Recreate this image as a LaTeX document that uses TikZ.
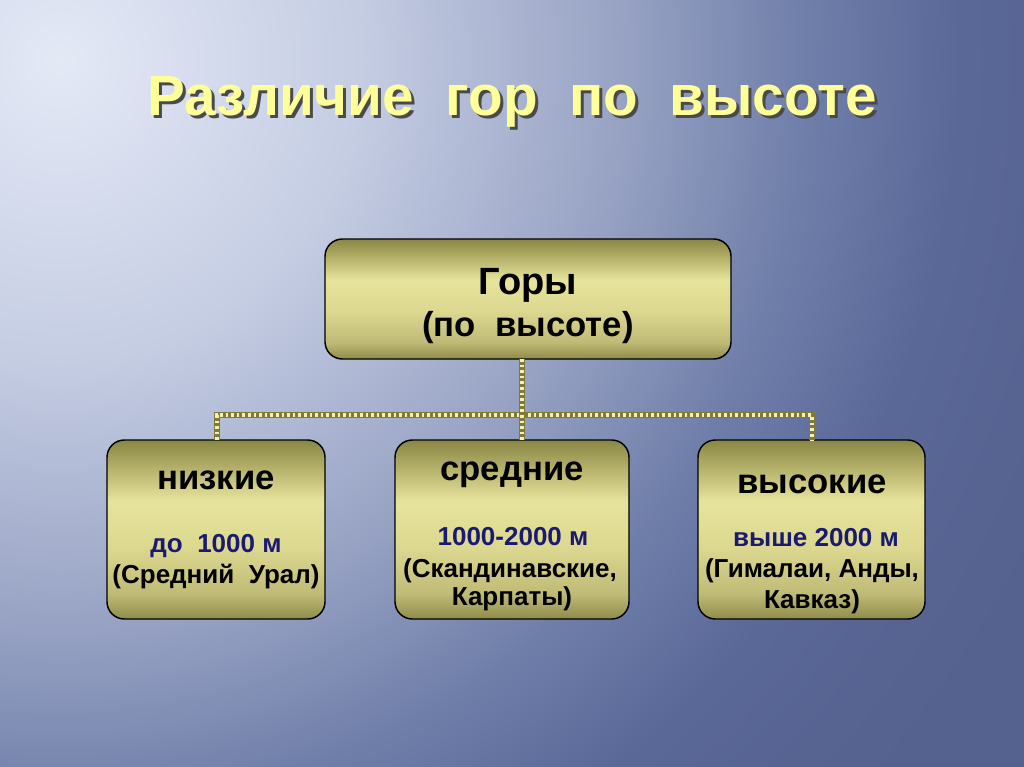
\documentclass[tikz,border=0pt]{standalone}
\usepackage{fontspec}
\setmainfont{Liberation Sans}
\definecolor{bgA}{HTML}{E4E9F6}
\definecolor{bgB}{HTML}{C5CDE3}
\definecolor{bgC}{HTML}{98A3C4}
\definecolor{bgD}{HTML}{6F7EA9}
\definecolor{bgF}{HTML}{5A6898}
\definecolor{bgE}{HTML}{55618E}
\definecolor{boxTop}{HTML}{8A8745}
\definecolor{boxUp}{HTML}{B0AC66}
\definecolor{boxMid}{HTML}{E6E39C}
\definecolor{boxMid2}{HTML}{DCD890}
\definecolor{boxLow}{HTML}{BFBB76}
\definecolor{boxBot}{HTML}{8F8B4A}
\definecolor{ropeDark}{HTML}{7F7A3A}
\definecolor{ropeLight}{HTML}{F4F2B0}
\definecolor{titleYellow}{HTML}{FFFF99}
\definecolor{titleShadow}{HTML}{4A4A4A}
\definecolor{navy}{HTML}{1A1A70}
\pgfdeclareradialshading{bgshade}{\pgfpoint{0bp}{0bp}}{color(0bp)=(bgA); color(6.25bp)=(bgB); color(11.67bp)=(bgC); color(15.6bp)=(bgD); color(18.75bp)=(bgF); color(22.9bp)=(bgE); color(50bp)=(bgE)}
\pgfdeclareverticalshading{boxshade}{100bp}{color(0bp)=(boxBot); color(25bp)=(boxBot); color(32bp)=(boxLow); color(45bp)=(boxMid2); color(58bp)=(boxMid); color(68bp)=(boxUp); color(75bp)=(boxTop); color(100bp)=(boxTop)}
\newcommand{\titlewords}{Различие\ \ гор\ \ по\ \ высоте}
\tikzset{
  box/.style={draw=black, line width=1.1pt, rounded corners=13pt, shading=boxshade, inner sep=0pt, outer sep=0pt},
  rope/.style={draw=ropeDark, line width=4.5pt, line join=miter, postaction={draw=ropeLight, line width=3pt, dash pattern=on 2pt off 2.2pt}},
  head/.style={anchor=base, inner sep=0pt, font=\bfseries\fontsize{26}{30}\selectfont},
  sub/.style={anchor=base, inner sep=0pt, font=\bfseries\fontsize{19.5}{23}\selectfont},
  subblue/.style={sub, text=navy},
  titletext/.style={anchor=base, inner sep=0pt, font=\bfseries\fontsize{42.5}{50}\selectfont}
}
\begin{document}
\begin{tikzpicture}[x=0.75pt,y=-0.75pt]
\useasboundingbox (0,0) rectangle (1024,767);
\begin{scope}
\clip (0,0) rectangle (1024,767);
\fill[bgE] (0,0) rectangle (1024,767);
\shade[shading=bgshade] (60,60) circle (1200);
\end{scope}
% title with its shadow
\node[titletext, text=titleYellow] (title) at (512,115)
  {\makebox[0pt][l]{\hspace{2.25pt}\raisebox{-2.25pt}{\textcolor{titleShadow}{\titlewords}}}\titlewords};
% boxes
\node[box, minimum width=304.5pt, minimum height=90pt] (top) at (528,299) {};
\node[box, minimum width=163.5pt, minimum height=134.25pt] (low) at (216,529.5) {};
\node[box, minimum width=175.5pt, minimum height=134.25pt] (mid) at (512,529.5) {};
\node[box, minimum width=170.25pt, minimum height=134.25pt] (high) at (811.5,529.5) {};
% connectors
\coordinate (j) at (522,415);
\draw[rope] (low.north -| 217,0) |- (j) -| (high.north);
\draw[rope] (top.south -| j) -- (mid.north -| j);
% texts
\node[anchor=base, inner sep=0pt, font=\bfseries\fontsize{28.5}{34}\selectfont] (t1) at (528,294) {Горы};
\node[anchor=base, inner sep=0pt, font=\bfseries\fontsize{26}{32}\selectfont] (t2) at (528,336) {(по\ \ высоте)};
\node[head] (l1) at (216,489) {низкие};
\node[subblue] (l2) at (216,552) {до\ \ 1000 м};
\node[sub] (l3) at (216,583) {(Средний\ \ Урал)};
\node[head] (m1) at (512,480) {средние};
\node[subblue] (m2) at (513,545) {1000-2000 м};
\node[sub] (m3) at (510,577) {(Скандинавские,};
\node[sub] (m4) at (512,605) {Карпаты)};
\node[head] (h1) at (812,493) {высокие};
\node[subblue] (h2) at (816,546) {выше 2000 м};
\node[sub] (h3) at (812,577) {(Гималаи, Анды,};
\node[sub] (h4) at (812,608) {Кавказ)};
\end{tikzpicture}
\end{document}
